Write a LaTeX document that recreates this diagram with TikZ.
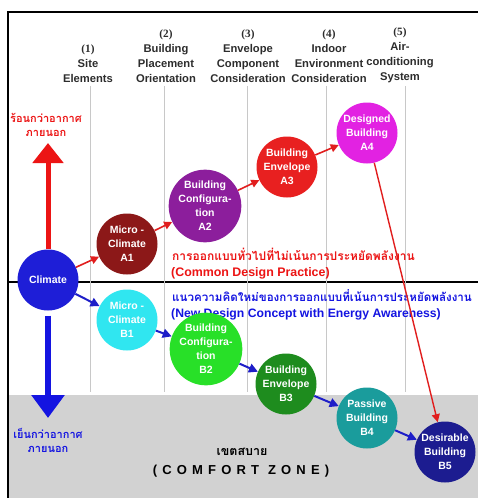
\documentclass[tikz,border=0pt]{standalone}
\usepackage{fontspec}
\setmainfont{Liberation Sans}
\newfontfamily\thai[Script=Thai]{Loma}
\newfontfamily\numfont{Liberation Serif}
\newfontfamily\spaced[LetterSpace=40]{Liberation Sans}
\usetikzlibrary{arrows.meta}

\definecolor{zone}{RGB}{210,210,210}
\definecolor{sepgray}{RGB}{200,200,200}
\definecolor{headtxt}{RGB}{45,45,45}
\definecolor{hotred}{RGB}{236,20,20}
\definecolor{coldblue}{RGB}{20,20,225}
\definecolor{arrred}{RGB}{225,30,30}
\definecolor{arrblue}{RGB}{30,30,200}
\definecolor{cClimate}{RGB}{30,30,215}
\definecolor{cAone}{RGB}{140,24,24}
\definecolor{cAtwo}{RGB}{140,30,156}
\definecolor{cAthree}{RGB}{232,32,32}
\definecolor{cAfour}{RGB}{226,34,226}
\definecolor{cBone}{RGB}{48,230,240}
\definecolor{cBtwo}{RGB}{40,224,40}
\definecolor{cBthree}{RGB}{30,140,30}
\definecolor{cBfour}{RGB}{26,156,156}
\definecolor{cBfive}{RGB}{28,28,144}

\begin{document}
\begin{tikzpicture}[x=1pt,y=-1pt,
  head/.style={anchor=south, align=center, text=headtxt, inner sep=0pt,
    font=\bfseries\fontsize{11.2}{15}\selectfont},
  bubble/.style={circle, minimum size=61pt, inner sep=0pt, align=center,
    text=white, font=\bfseries\fontsize{10.5}{14}\selectfont},
  sepline/.style={draw=sepgray, line width=0.6pt},
  redarr/.style={draw=arrred, line width=1.6pt, -{Triangle[length=8pt,width=8pt]}},
  bluearr/.style={draw=arrblue, line width=2pt, -{Triangle[length=9pt,width=9pt]}},
  thaired/.style={text=hotred, inner sep=0pt, anchor=west, font=\thai\bfseries\fontsize{12}{14}\selectfont},
  thaiblue/.style={text=coldblue, inner sep=0pt, anchor=west, font=\thai\bfseries\fontsize{11.6}{14}\selectfont},
  engred/.style={text=hotred, inner sep=0pt, anchor=west, font=\bfseries\fontsize{12.4}{14}\selectfont},
  engblue/.style={text=coldblue, inner sep=0pt, anchor=west, font=\bfseries\fontsize{12.2}{14}\selectfont},
  sidelabel/.style={align=center, inner sep=0pt, font=\thai\bfseries\fontsize{11}{14}\selectfont}]

\clip (0,0) rectangle (478,498);
\fill[white] (0,0) rectangle (478,498);

% comfort zone band
\fill[zone] (8,395) rectangle (478,498);

% frame and divider
\draw[line width=1.3pt] (478,12) -- (8,12) -- (8,498);
\draw[line width=1.1pt] (8,282) -- (478,282);

% column separators
\foreach \x in {90,164,247,326,405}
  \draw[sepline] (\x,86) -- (\x,392);

% column headings
\node[head] (h1) at (88,83) {{\numfont (1)}\\Site\\Elements};
\node[head] (h2) at (166,83) {{\numfont (2)}\\Building\\Placement\\Orientation};
\node[head] (h3) at (248,83) {{\numfont (3)}\\Envelope\\Component\\Consideration};
\node[head] (h4) at (329,83) {{\numfont (4)}\\Indoor\\Environment\\Consideration};
\node[head] (h5) at (400,83) {{\numfont (5)}\\Air-\\conditioning\\System};

% design path captions
\node[thaired] (tr) at (172,254) {การออกแบบทั่วไปที่ไม่เน้นการประหยัดพลังงาน};
\node[engred] (er) at (171,273) {(Common Design Practice)};
\node[thaiblue] (tb) at (172,296) {แนวความคิดใหม่ของการออกแบบที่เน้นการประหยัดพลังงาน};
\node[engblue] (eb) at (171,314) {(New Design Concept with Energy Awareness)};

% comfort zone caption
\node[inner sep=0pt, font=\thai\bfseries\fontsize{12.5}{14}\selectfont] (zt) at (242,452) {เขตสบาย};
\node[inner sep=0pt, font=\spaced\bfseries\fontsize{13}{15}\selectfont] (ze) at (241,471) {(COMFORT ZONE)};

% bubbles
\node[bubble, fill=cClimate] (climate) at (48,280) {Climate};
\node[bubble, fill=cAone] (a1) at (127,244) {Micro -\\Climate\\A1};
\node[bubble, fill=cAtwo] (a2) at (205,206) {Building\\Configura-\\tion\\A2};
\node[bubble, fill=cAthree] (a3) at (287,167) {Building\\Envelope\\A3};
\node[bubble, fill=cAfour] (a4) at (367,133) {Designed\\Building\\A4};
\node[bubble, fill=cBone] (b1) at (127,320) {Micro -\\Climate\\B1};
\node[bubble, fill=cBtwo] (b2) at (206,349) {Building\\Configura-\\tion\\B2};
\node[bubble, fill=cBthree] (b3) at (286,384) {Building\\Envelope\\B3};
\node[bubble, fill=cBfour] (b4) at (367,418) {Passive\\Building\\B4};
\node[bubble, fill=cBfive] (b5) at (445,452) {Desirable\\Building\\B5};

% side labels
\node[sidelabel, text=hotred] (hot) at (46,125) {ร้อนกว่าอากาศ\\ภายนอก};
\node[sidelabel, text=coldblue] (cold) at (48,440) {เย็นกว่าอากาศ\\ภายนอก};

% big direction arrows
\coordinate (hotTip) at (48,143);
\coordinate (coldTip) at (48,418);
\draw[draw=hotred, line width=5pt, -{Triangle[length=20pt,width=30pt]}]
  (climate.north) -- (hotTip);
\draw[draw=coldblue, line width=6pt, -{Triangle[length=23pt,width=32pt]}]
  ([yshift=-5pt]climate.south) -- (coldTip);

% common design path
\draw[redarr] (climate) -- (a1);
\draw[redarr] (a1) -- (a2);
\draw[redarr] (a2) -- (a3);
\draw[redarr] (a3) -- (a4);
\draw[redarr, line width=1.4pt] (a4) -- (b5);

% energy-aware path
\draw[bluearr] (climate) -- (b1);
\draw[bluearr] (b1) -- (b2);
\draw[bluearr] (b2) -- (b3);
\draw[bluearr] (b3) -- (b4);
\draw[bluearr] (b4) -- (b5);
\end{tikzpicture}
\end{document}
